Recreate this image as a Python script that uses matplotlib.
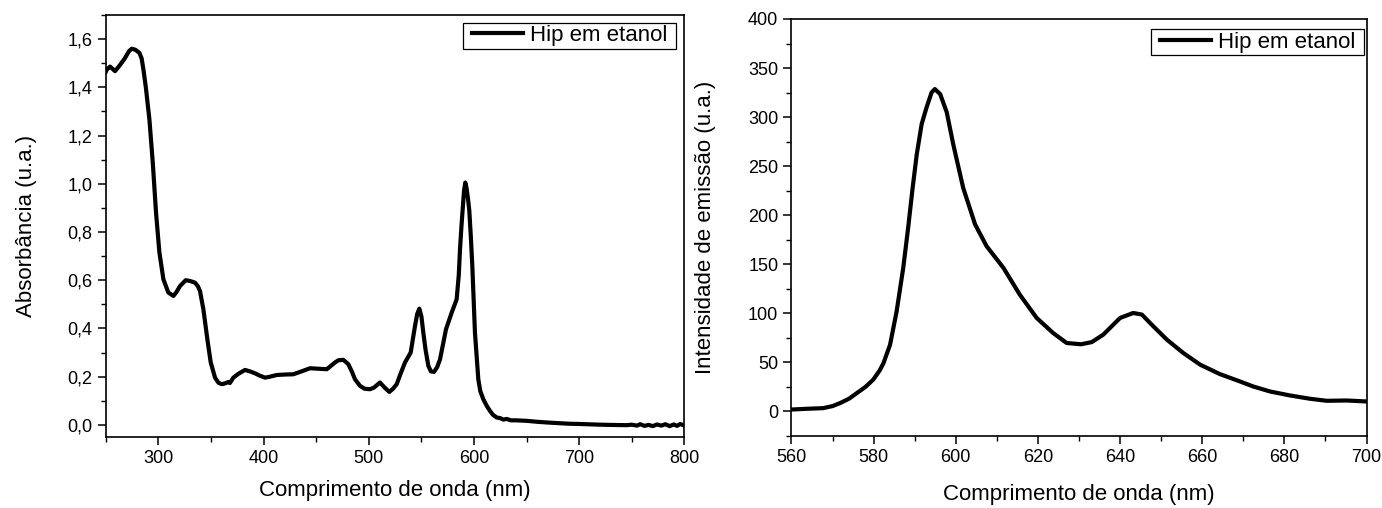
import matplotlib
matplotlib.use("Agg")
import matplotlib.pyplot as plt
from matplotlib.ticker import MultipleLocator, FuncFormatter
from matplotlib.legend_handler import HandlerLine2D

# absorption spectrum (left)
abs_nm = [250, 251, 254, 258.7, 263, 268, 272, 274.6, 278, 281.9, 284, 285.7, 288, 291.4,
          294.6, 297.7, 300.9, 304.7, 309.4, 314.2, 317, 320.5, 325.9, 330, 334.8, 337.5,
          339.5, 342.7, 346.5, 349.7, 353.8, 357, 360.2, 363, 366.5, 368, 371.2, 376, 382.3,
          387, 391.8, 396, 401.3, 406, 412.4, 420, 428.2, 436, 444.1, 452, 460, 464, 467.9,
          471, 475.7, 480.5, 484, 486.9, 491.6, 496, 501.1, 505, 510.6, 515, 519.5, 523,
          526.5, 530, 534.4, 539.8, 543.9, 546, 548, 550, 551.8, 554, 556.6, 559, 562, 565,
          567.7, 573.4, 578.8, 583.5, 585.5, 586.7, 588, 589.2, 590.5, 591.7, 593, 594.5,
          595.5, 597, 598.4, 600.9, 604.1, 606, 608.8, 612, 615.2, 618, 621.5, 625, 628,
          631, 635, 640, 650, 660, 670, 681.7, 690, 700, 713.4, 720, 730, 745, 750, 755,
          758, 762, 766, 770, 774, 778, 782, 786, 790, 793, 796, 800]
abs_val = [1.465, 1.474, 1.486, 1.467, 1.49, 1.52, 1.55, 1.56, 1.556, 1.543, 1.52, 1.474, 1.40, 1.267,
           1.088, 0.88, 0.715, 0.604, 0.549, 0.535, 0.55, 0.576, 0.60, 0.597, 0.59, 0.575,
           0.555, 0.48, 0.355, 0.259, 0.196, 0.175, 0.169, 0.172, 0.178, 0.174, 0.196, 0.212, 0.228,
           0.222, 0.214, 0.205, 0.196, 0.2, 0.207, 0.209, 0.21, 0.222, 0.235, 0.233, 0.231, 0.245, 0.259,
           0.268, 0.27, 0.252, 0.22, 0.189, 0.162, 0.15, 0.148, 0.155, 0.176, 0.155, 0.137, 0.15,
           0.169, 0.21, 0.259, 0.30, 0.41, 0.46, 0.482, 0.45, 0.383, 0.31, 0.245, 0.222, 0.22, 0.24,
           0.272, 0.397, 0.466, 0.521, 0.62, 0.728, 0.82, 0.894, 0.97, 1.005, 0.98, 0.93,
           0.89, 0.78, 0.659, 0.383, 0.189, 0.14, 0.107, 0.08, 0.058, 0.042, 0.031, 0.028, 0.022,
           0.025, 0.019, 0.019, 0.017, 0.013, 0.01, 0.007, 0.005, 0.004, 0.002, 0.001, 0.0, -0.001, 0.001, -0.003,
           0.003, -0.004, 0.0, -0.005, 0.002, -0.003, 0.003, -0.005, 0.002, -0.004, 0.004, -0.003]

# emission spectrum (right)
em_nm = [560, 564, 567.7, 570, 571.8, 574, 575.9, 578, 579.9, 581.5, 582.4, 584, 585.6,
         587.2, 588.4, 589.5, 590.5, 591.7, 592.9, 594.1, 594.9, 596.2, 597.8, 599.4, 601.8,
         604.7, 607.5, 611.6, 615.6, 619.7, 623.7, 627, 630.5, 633.1, 635.9, 638, 640, 643.2,
         645.3, 648.1, 651.4, 655.4, 659.5, 664.3, 669.2, 672.4, 676.5, 681.4, 686.2, 690.3,
         695.2, 700]
em_val = [2, 2.8, 3.4, 5.5, 8.5, 13, 18.7, 25, 32.4, 42, 49.3, 68, 102,
          146, 187, 228, 262, 293, 310, 325, 328.6, 323.5, 305, 272, 228,
          190.7, 168.5, 146.4, 119, 95.3, 80, 69.8, 68.5, 70.7, 78.3, 87, 95.3, 100.4,
          98.8, 86.8, 73.2, 59.6, 47.7, 38.1, 30.6, 25.5, 20.4, 16.3, 13, 10.9,
          11.2, 10.2]

SERIES_LABEL = "Hip em etanol"

plt.rcParams["font.family"] = ["Liberation Sans", "DejaVu Sans"]


def style_axis(axis):
    for spine in axis.spines.values():
        spine.set_linewidth(1.2)
    axis.tick_params(which="major", direction="out", length=5.5, width=1.1,
                     labelsize=13, top=False, right=False, pad=4)
    axis.tick_params(which="minor", direction="out", length=3.5, width=1.0,
                     top=False, right=False)


def add_legend(axis, anchor):
    leg = axis.legend(loc="upper right", bbox_to_anchor=anchor, fontsize=16,
                      frameon=True, fancybox=False, edgecolor="black", framealpha=1,
                      borderpad=0.12, handlelength=2.6, handletextpad=0.3,
                      borderaxespad=0.0,
                      handler_map={plt.Line2D: HandlerLine2D(xpad=0.28)})
    leg.get_frame().set_linewidth(0.9)


fig = plt.figure(figsize=(13.82, 5.08), dpi=100)
ax1 = fig.add_axes([0.0766, 0.1398, 0.4186, 0.8307])
ax2 = fig.add_axes([0.5727, 0.1417, 0.4161, 0.8209])

ax1.plot(abs_nm, abs_val, color="black", linewidth=3, label=SERIES_LABEL + " ")
ax1.set_xlim(250, 800)
ax1.set_ylim(-0.05, 1.7)
ax1.xaxis.set_major_locator(MultipleLocator(100))
ax1.xaxis.set_minor_locator(MultipleLocator(50))
ax1.yaxis.set_major_locator(MultipleLocator(0.2))
ax1.yaxis.set_minor_locator(MultipleLocator(0.1))
ax1.yaxis.set_major_formatter(FuncFormatter(lambda v, p: f"{v:.1f}".replace(".", ",").replace("-0,0", "0,0")))
ax1.set_xlabel("Comprimento de onda (nm)", fontsize=16, labelpad=9)
ax1.set_ylabel("Absorbância (u.a.)", fontsize=16, labelpad=22)
style_axis(ax1)
add_legend(ax1, (0.9857, 0.982))

ax2.plot(em_nm, em_val, color="black", linewidth=3, label=SERIES_LABEL + " ")
ax2.set_xlim(560, 700)
ax2.set_ylim(-25, 400)
ax2.xaxis.set_major_locator(MultipleLocator(20))
ax2.xaxis.set_minor_locator(MultipleLocator(10))
ax2.yaxis.set_major_locator(MultipleLocator(50))
ax2.yaxis.set_minor_locator(MultipleLocator(25))
ax2.set_xlabel("Comprimento de onda (nm)", fontsize=16, labelpad=13)
ax2.set_ylabel("Intensidade de emissão (u.a.)", fontsize=16, labelpad=23)
style_axis(ax2)
add_legend(ax2, (0.9958, 0.976))

fig.savefig("out.png", dpi=100)
